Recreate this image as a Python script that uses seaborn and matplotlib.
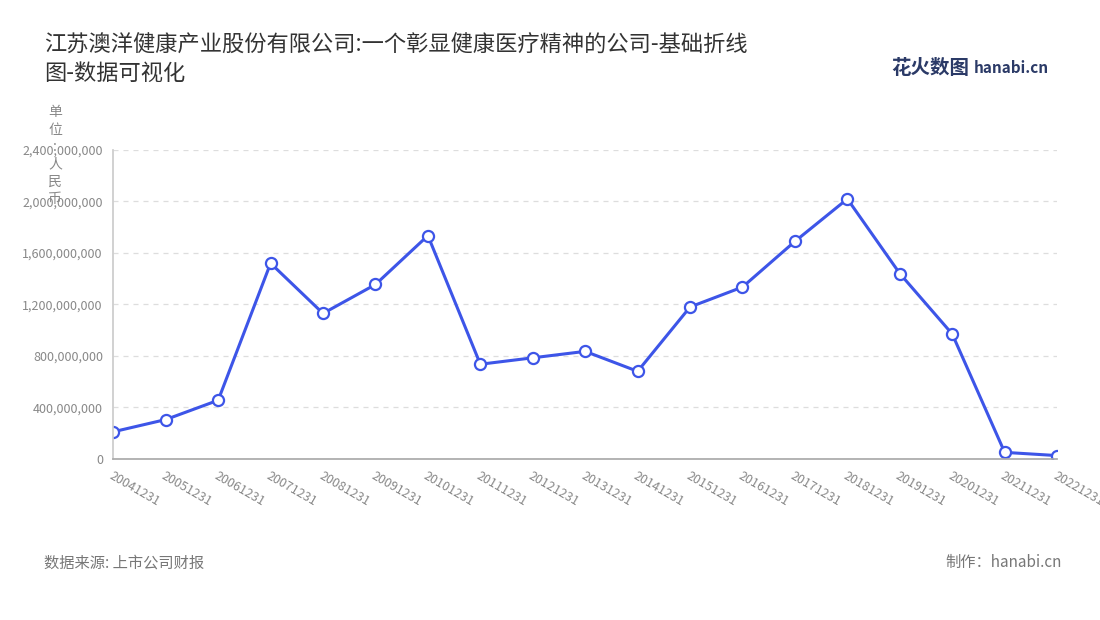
import matplotlib
matplotlib.use("Agg")
import matplotlib.pyplot as plt
import seaborn as sns
import pandas as pd

dates = ["20041231","20051231","20061231","20071231","20081231","20091231","20101231",
         "20111231","20121231","20131231","20141231","20151231","20161231","20171231",
         "20181231","20191231","20201231","20211231","20221231"]
values = [210e6,305e6,455e6,1520e6,1130e6,1355e6,1735e6,735e6,785e6,835e6,680e6,
          1180e6,1335e6,1690e6,2020e6,1440e6,970e6,50e6,25e6]
yticks = [0,400e6,800e6,1200e6,1600e6,2000e6,2400e6]

sns.set_theme(style="white")
plt.rcParams['font.family'] = ['Noto Sans CJK SC', 'DejaVu Sans']

df = pd.DataFrame({"x": range(len(dates)), "v": values})
fig = plt.figure(figsize=(11, 6.2), dpi=100)
ax = fig.add_axes([0.103, 0.26, 0.858, 0.498])
sns.lineplot(data=df, x="x", y="v", ax=ax, color="#3d55e8", linewidth=2.2,
             marker="o", markersize=8, markerfacecolor="white",
             markeredgecolor="#3d55e8", markeredgewidth=1.6)
ax.set_xlim(0, len(dates) - 1)
ax.set_ylim(0, 2400e6)
ax.set_yticks(yticks)
ax.set_yticklabels([f"{int(v):,}" for v in yticks], fontsize=9, color="#888888")
ax.set_xticks(range(len(dates)))
ax.set_xticklabels(dates, rotation=-30, ha="left", rotation_mode="anchor",
                   fontsize=9, color="#888888")
ax.set_xlabel(""); ax.set_ylabel("")
ax.grid(axis="y", linestyle=(0, (4, 4)), color="#dddddd", linewidth=0.9)
for s in ["top", "right"]:
    ax.spines[s].set_visible(False)
ax.spines["left"].set_color("#cccccc")
ax.spines["bottom"].set_color("#aaaaaa")
ax.tick_params(axis="both", length=4, color="#aaaaaa")
for lbl in ax.get_xticklabels():
    lbl.set_clip_on(False)

fig.text(0.04, 0.945, "江苏澳洋健康产业股份有限公司:一个彰显健康医疗精神的公司-基础折线\n图-数据可视化",
         fontsize=16, color="#333333", va="top", linespacing=1.25)
fig.text(0.05, 0.83, "单\n位\n:\n人\n民\n币", fontsize=10, color="#888888",
         va="top", ha="center", linespacing=1.3)
fig.text(0.04, 0.085, "数据来源: 上市公司财报", fontsize=11, color="#777777")
fig.text(0.965, 0.085, "制作：hanabi.cn", fontsize=11, color="#777777", ha="right")
fig.text(0.81, 0.88, "花火数图", fontsize=14, color="#2b3a67", fontweight="bold")
fig.text(0.885, 0.883, "hanabi.cn", fontsize=11, color="#2b3a67", fontweight="bold")
fig.savefig("out.png", dpi=100)
